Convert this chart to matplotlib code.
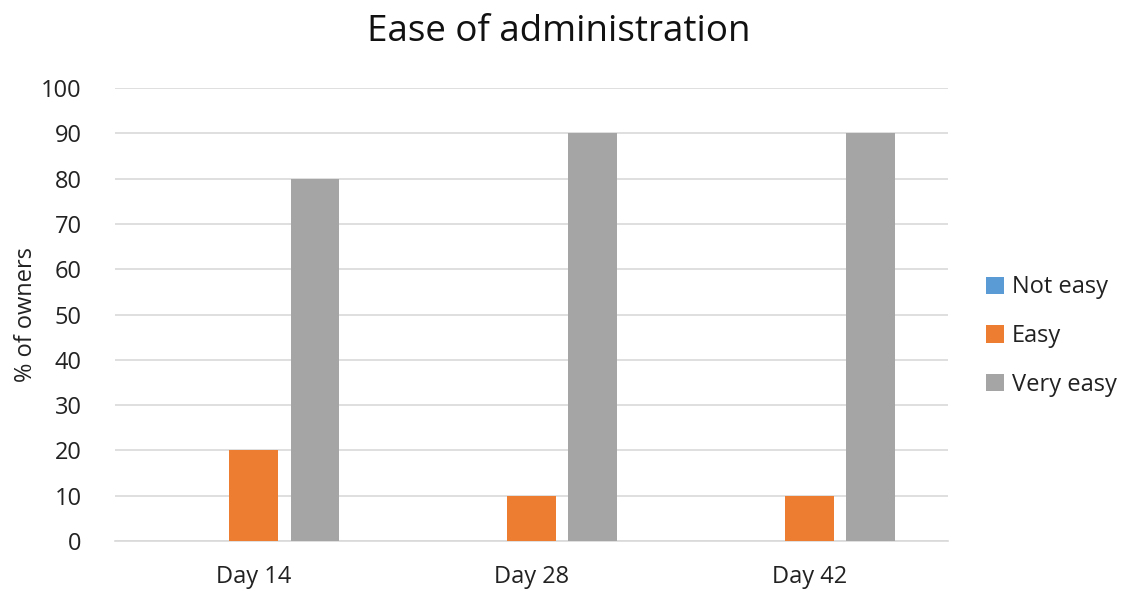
import numpy as np
import matplotlib.pyplot as plt

plt.rcParams['font.family'] = ['Open Sans', 'DejaVu Sans']

days = ["Day 14", "Day 28", "Day 42"]
series = ["Not easy", "Easy", "Very easy"]
not_easy = [0, 0, 0]
easy = [20, 10, 10]
very_easy = [80, 90, 90]
colors = ["#5B9BD5", "#ED7D31", "#A5A5A5"]

fig = plt.figure(figsize=(11.29, 5.91), dpi=100)
ax = fig.add_axes([0.1019, 0.0846, 0.7378, 0.7665])

x = np.arange(len(days))
width = 0.176
step = 0.22
for i, (name, vals) in enumerate(zip(series, [not_easy, easy, very_easy])):
    ax.bar(x + (i - 1) * step, vals, width, color=colors[i], label=name, zorder=3)

ax.set_xlim(-0.5, 2.5)
ax.set_ylim(0, 100)
ax.set_yticks(range(0, 101, 10))
ax.set_xticks(x)
ax.set_xticklabels(days)
ax.yaxis.grid(True, color="#D9D9D9", linewidth=1.2, zorder=0)
for s in ["top", "right", "left"]:
    ax.spines[s].set_visible(False)
ax.spines["bottom"].set_color("#D9D9D9")
ax.spines["bottom"].set_linewidth(1.2)
ax.tick_params(axis="both", length=0, labelsize=17, colors="#222222")
ax.tick_params(axis="y", pad=24)
ax.tick_params(axis="x", pad=17)

ax.set_ylabel("% of owners", fontsize=17, color="#222222", labelpad=2)
fig.text(559 / 1129, 1 - 32 / 591, "Ease of administration", fontsize=26.5,
         color="#111111", ha="center", va="center")

ax.legend(loc="center left", bbox_to_anchor=(1.02, 0.452), frameon=False,
          fontsize=17, handlelength=0.75, handleheight=0.75, labelspacing=1.05,
          handletextpad=0.35, labelcolor="#222222")

fig.savefig("out.png", dpi=100)
